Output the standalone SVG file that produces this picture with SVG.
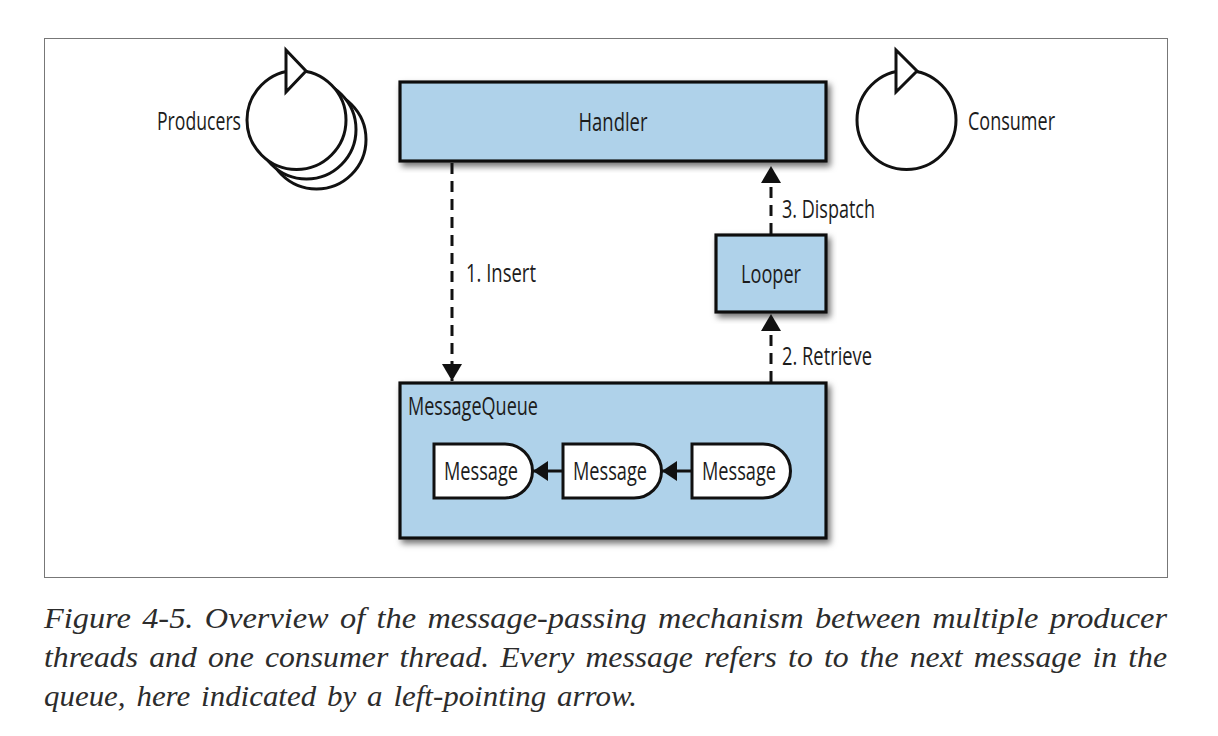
<svg xmlns="http://www.w3.org/2000/svg" width="1218" height="736" viewBox="0 0 1218 736">
<style>
.box{fill:#afd2ea;stroke:#111;stroke-width:3.2;filter:url(#sh)}
.msg{fill:#fff;stroke:#111;stroke-width:3}
.th{fill:#fff;stroke:#111;stroke-width:3}
.t{font-family:"Open Sans","Liberation Sans",sans-serif;font-size:25px;fill:#1c1c1c}
.c{font-family:"Liberation Serif",serif;font-style:italic;font-size:29.500px;word-spacing:3px;fill:#2c2c2c}
.dash{fill:none;stroke:#111;stroke-width:3;stroke-dasharray:11 7}
.solid{fill:none;stroke:#111;stroke-width:3}
</style>
<defs>
<filter id="sh" x="-10%" y="-10%" width="120%" height="125%"><feDropShadow dx="3" dy="4" stdDeviation="3" flood-color="#000" flood-opacity=".55"/></filter>
<marker id="a" markerUnits="userSpaceOnUse" markerWidth="22" markerHeight="22" refX="17" refY="10" orient="auto"><path d="M0 0L17 10L0 20Z" fill="#111"/></marker>
<marker id="m" markerUnits="userSpaceOnUse" markerWidth="20" markerHeight="20" refX="15" refY="10" orient="auto"><path d="M0 0L15 10L0 20Z" fill="#111"/></marker>
</defs>
<rect x="44.500" y="38.500" width="1123" height="539" fill="#fff" stroke="#777" stroke-width="1"/>
<g id="producers">
<circle class="th" cx="316.500" cy="139.500" r="49.500"/>
<circle class="th" cx="306.500" cy="129.500" r="49.500"/>
<circle class="th" cx="296.500" cy="120" r="49.500"/>
<path class="th" d="M286 50L306 71L286 92Z"/>
<text class="t" x="157" y="130" textLength="84" lengthAdjust="spacingAndGlyphs">Producers</text>
</g>
<g id="consumer">
<circle class="th" cx="906.500" cy="120" r="49.500"/>
<path class="th" d="M896 50L917 71L896 92Z"/>
<text class="t" x="968" y="130" textLength="87" lengthAdjust="spacingAndGlyphs">Consumer</text>
</g>
<g id="handler">
<rect class="box" x="400" y="82" width="426" height="79"/>
<text class="t" x="613" y="131" text-anchor="middle" textLength="69" lengthAdjust="spacingAndGlyphs">Handler</text>
</g>
<g id="looper">
<rect class="box" x="716" y="235" width="110" height="77"/>
<text class="t" x="771" y="283" text-anchor="middle" textLength="60" lengthAdjust="spacingAndGlyphs">Looper</text>
</g>
<g id="messagequeue">
<rect class="box" x="400" y="383" width="426" height="155"/>
<text class="t" x="408" y="415" textLength="130" lengthAdjust="spacingAndGlyphs">MessageQueue</text>
</g>
<g id="message1">
<path class="msg" d="M434 444H505A27.500 27 0 0 1 505 498H434Z"/>
<text class="t" x="444" y="480" textLength="74" lengthAdjust="spacingAndGlyphs">Message</text>
</g>
<g id="message2">
<path class="msg" d="M563 444H634A27.500 27 0 0 1 634 498H563Z"/>
<text class="t" x="573" y="480" textLength="74" lengthAdjust="spacingAndGlyphs">Message</text>
</g>
<g id="message3">
<path class="msg" d="M692 444H763A27.500 27 0 0 1 763 498H692Z"/>
<text class="t" x="702" y="480" textLength="74" lengthAdjust="spacingAndGlyphs">Message</text>
</g>
<g id="connectors">
<path class="dash" d="M452 163V381" marker-end="url(#a)"/>
<path class="dash" d="M771 234V166" marker-end="url(#a)"/>
<path class="dash" d="M771 382V314" marker-end="url(#a)"/>
<path class="solid" d="M563 471H533" marker-end="url(#m)"/>
<path class="solid" d="M692 471H662" marker-end="url(#m)"/>
<text class="t" x="466" y="282" textLength="70" lengthAdjust="spacingAndGlyphs">1. Insert</text>
<text class="t" x="782" y="218" textLength="93" lengthAdjust="spacingAndGlyphs">3. Dispatch</text>
<text class="t" x="782" y="365" textLength="90" lengthAdjust="spacingAndGlyphs">2. Retrieve</text>
</g>
<g id="caption">
<text class="c" x="44" y="628" textLength="1123" lengthAdjust="spacingAndGlyphs">Figure 4-5. Overview of the message-passing mechanism between multiple producer</text>
<text class="c" x="44" y="667" textLength="1123" lengthAdjust="spacingAndGlyphs">threads and one consumer thread. Every message refers to to the next message in the</text>
<text class="c" x="44" y="706" textLength="593" lengthAdjust="spacingAndGlyphs">queue, here indicated by a left-pointing arrow.</text>
</g>
</svg>
